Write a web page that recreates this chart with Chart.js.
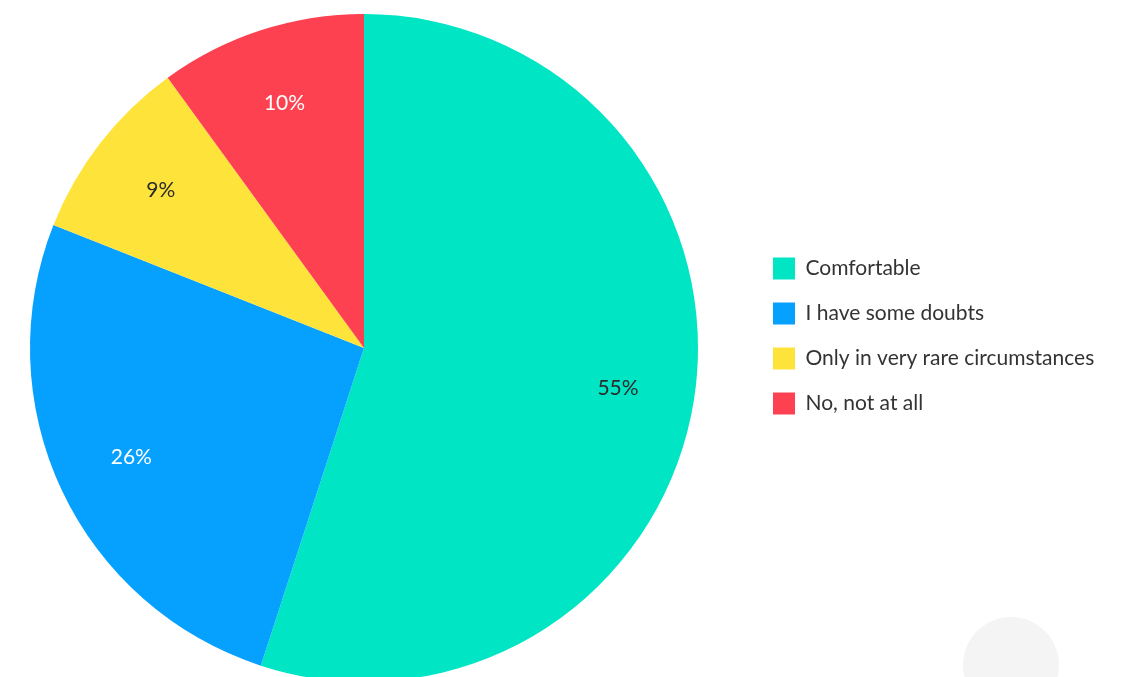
<!DOCTYPE html>
<html>
<head>
<meta charset="utf-8">
<script src="https://cdn.jsdelivr.net/npm/chart.js@4.4.1/dist/chart.umd.min.js"></script>
<style>
  html, body { margin: 0; padding: 0; background: #fff; overflow: hidden; }
  #caja { position: relative; width: 1121px; height: 700px; }
  #burbuja {
    position: absolute; left: 963px; top: 617px;
    width: 96px; height: 96px; border-radius: 50%; background: #f4f4f4;
  }
</style>
</head>
<body>
<div id="caja">
  <canvas id="myChart" width="1121" height="700"></canvas>
  <div id="burbuja"></div>
</div>
<script>
// Respuestas de la encuesta
const categorias = ['Comfortable', 'I have some doubts', 'Only in very rare circumstances', 'No, not at all'];
const porcentajes = [55, 26, 9, 10];
const colores = ['#00e5c4', '#06a0fe', '#fee33b', '#fe4150'];
const coloresTexto = ['#2b2b2b', '#ffffff', '#2b2b2b', '#ffffff'];

const fuente = 'Lato, "Open Sans", sans-serif';

// Escribe el porcentaje dentro de cada rebanada
const etiquetas = {
  id: 'etiquetas',
  afterDatasetsDraw(chart) {
    const ctx = chart.ctx;
    const meta = chart.getDatasetMeta(0);
    ctx.save();
    ctx.font = '21px ' + fuente;
    ctx.textAlign = 'center';
    ctx.textBaseline = 'middle';
    meta.data.forEach((arco, i) => {
      const p = arco.getProps(['x', 'y', 'startAngle', 'endAngle', 'outerRadius'], true);
      const medio = (p.startAngle + p.endAngle) / 2;
      const r = p.outerRadius * 0.77;
      ctx.fillStyle = coloresTexto[i];
      ctx.fillText(porcentajes[i] + '%', p.x + Math.cos(medio) * r, p.y + Math.sin(medio) * r);
    });
    ctx.restore();
  }
};

// Acomoda la leyenda un poco a la derecha y arriba
const moverLeyenda = {
  id: 'moverLeyenda',
  afterLayout(chart) {
    const lg = chart.legend;
    lg.left += 22; lg.right += 22;
    lg.top -= 12; lg.bottom -= 12;
  }
};

const ctx = document.getElementById('myChart');

new Chart(ctx, {
  type: 'pie',
  data: {
    labels: categorias,
    datasets: [{
      data: porcentajes,
      backgroundColor: colores,
      borderWidth: 0
    }]
  },
  options: {
    responsive: false,
    animation: false,
    layout: {
      padding: { top: 14, bottom: 18, left: 0, right: 0 }
    },
    plugins: {
      tooltip: { enabled: false },
      legend: {
        position: 'right',
        labels: {
          boxWidth: 22,
          boxHeight: 22,
          padding: 23,
          color: '#333333',
          font: { family: fuente, size: 21 }
        }
      }
    }
  },
  plugins: [etiquetas, moverLeyenda]
});

// Ajusta el ancho de la leyenda para que el pastel quede a la izquierda
const grafica = Chart.getChart(ctx);
const fitOriginal = grafica.legend.fit;
grafica.legend.fit = function () {
  fitOriginal.call(this);
  this.width = 393;
};
grafica.update();
</script>
</body>
</html>
